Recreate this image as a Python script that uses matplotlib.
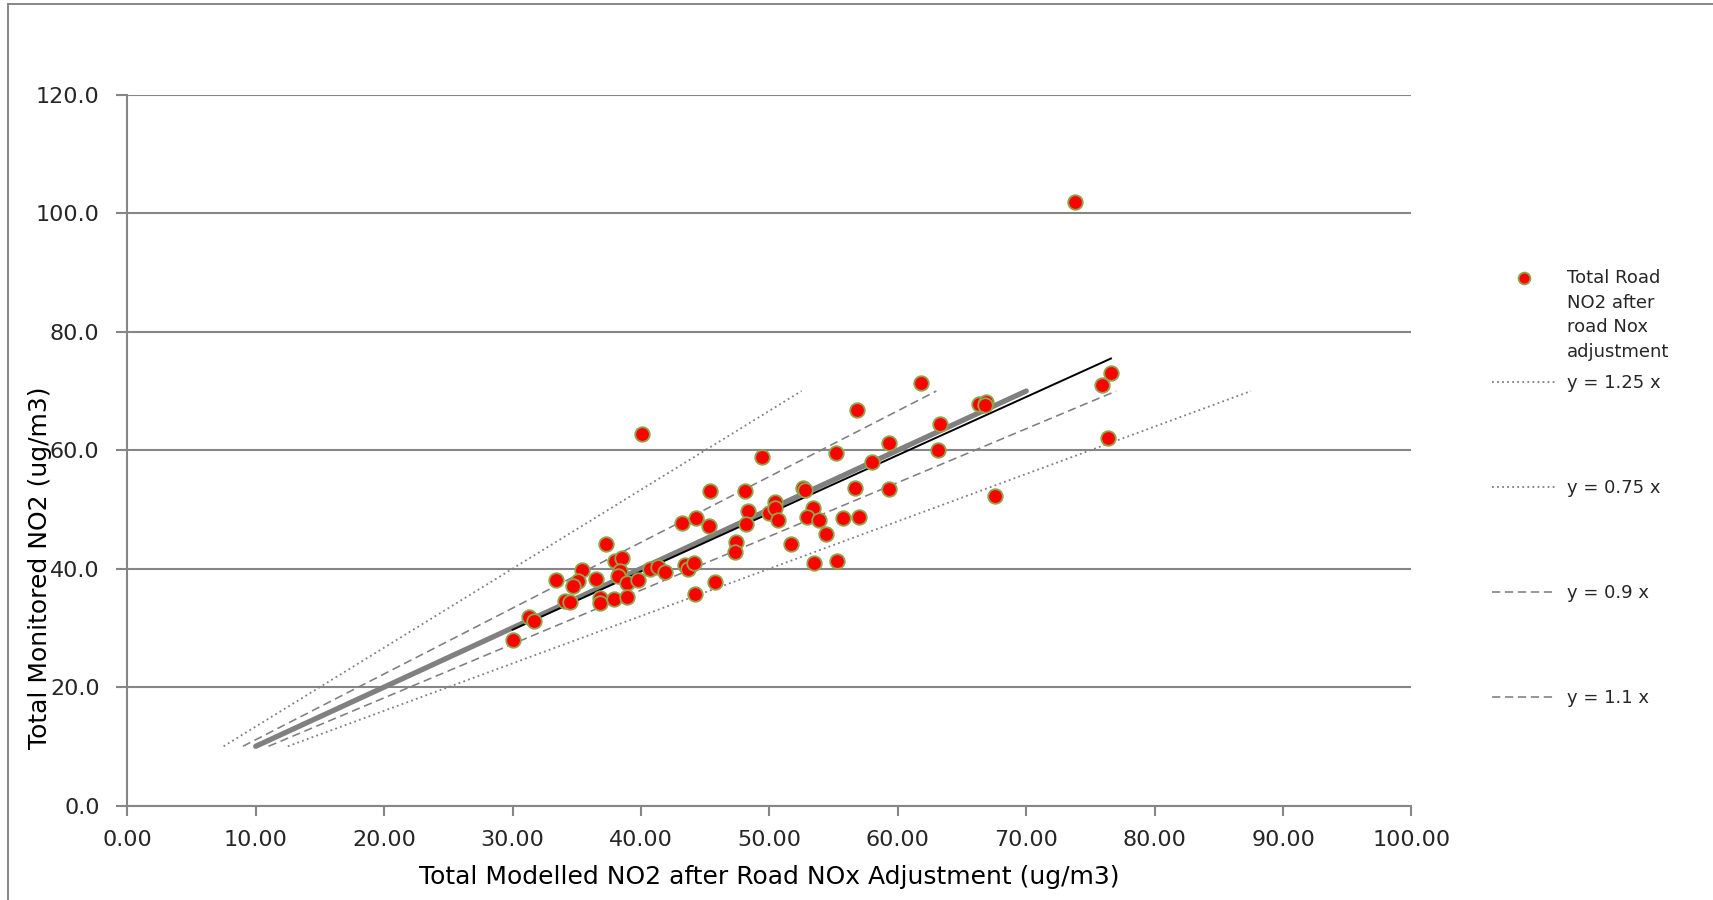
import matplotlib
matplotlib.use("Agg")
import matplotlib.pyplot as plt
from matplotlib.lines import Line2D
from matplotlib.legend_handler import HandlerLine2D
import numpy as np

# ---------------- data ----------------
modelled_no2 = [40.1, 56.8, 49.4, 55.2, 58.0, 45.4, 48.1, 52.6, 52.8, 56.7,
                50.4, 48.3, 50.0, 50.4, 50.7, 53.4, 52.9, 53.9, 55.7, 57.0,
                54.4, 51.7, 53.5, 55.3, 43.2, 44.3, 45.3, 48.2, 47.4, 47.3,
                37.3, 38.0, 38.5, 38.4, 38.2, 38.9, 39.8, 40.7, 41.3, 41.9,
                43.4, 43.7, 44.1, 45.8, 44.2, 35.4, 35.1, 34.7, 33.4, 36.5,
                34.1, 34.5, 36.8, 36.8, 37.9, 38.9, 31.3, 31.7, 30.0, 61.8,
                66.3, 66.9, 66.8, 63.3, 59.3, 63.1, 59.3, 67.6, 75.9, 76.6,
                76.4, 73.8]
monitored_no2 = [62.8, 66.8, 58.9, 59.6, 58.0, 53.1, 53.1, 53.7, 53.3, 53.7,
                 51.2, 49.7, 49.4, 50.2, 48.2, 50.3, 48.8, 48.2, 48.6, 48.8,
                 45.8, 44.1, 41.0, 41.3, 47.7, 48.6, 47.2, 47.5, 44.5, 42.8,
                 44.1, 41.3, 41.8, 39.6, 38.8, 37.5, 38.1, 39.9, 40.3, 39.5,
                 40.7, 40.0, 41.0, 37.7, 35.8, 39.7, 37.9, 37.0, 38.1, 38.3,
                 34.5, 34.3, 35.0, 34.2, 34.8, 35.2, 31.9, 31.1, 28.0, 71.3,
                 67.8, 68.2, 67.6, 64.5, 61.3, 60.1, 53.4, 52.3, 71.1, 73.1,
                 62.1, 102.0]

# reference lines: modelled = factor * monitored, monitored from 10 to 70
ref_factors = [0.75, 1.25, 0.9, 1.1]
ref_labels = ["y = 1.25 x", "y = 0.75 x", "y = 0.9 x", "y = 1.1 x"]
ref_styles = ["dotted", "dotted", "dashed", "dashed"]
ref_y_range = [10, 70]
one_to_one_range = [10, 70]

trend_slope = 0.983
trend_intercept = 0.2

series_label = "Total Road\nNO2 after\nroad Nox\nadjustment"
x_ticks = [0, 10, 20, 30, 40, 50, 60, 70, 80, 90, 100]
y_ticks = [0, 20, 40, 60, 80, 100, 120]
x_title = "Total Modelled NO2 after Road NOx Adjustment (ug/m3)"
y_title = "Total Monitored NO2 (ug/m3)"

# ---------------- style ----------------
W, H = 1713, 900
DPI = 100
GRAY = "#868686"
LINE_GRAY = "#7f7f7f"
TXT = "#262626"

plt.rcParams["font.family"] = ["DejaVu Sans"]

fig = plt.figure(figsize=(W / DPI, H / DPI), dpi=DPI)
ax = fig.add_axes([127.3 / W, 1 - 805.5 / H, (1411.5 - 127.3) / W, (805.5 - 95) / H])

ax.set_xlim(0, 100)
ax.set_ylim(0, 120)

ax.set_yticks(y_ticks)
ax.set_xticks(x_ticks)
ax.yaxis.grid(True, color=GRAY, linewidth=1.5)
ax.set_axisbelow(True)
for s in ["top", "right"]:
    ax.spines[s].set_visible(False)
for s in ["left", "bottom"]:
    ax.spines[s].set_color(GRAY)
    ax.spines[s].set_linewidth(1.5)

ax.set_xticklabels([f"{v:.2f}" for v in x_ticks])
ax.set_yticklabels([f"{v:.1f}" for v in y_ticks])
ax.tick_params(axis="x", direction="out", length=7, width=1.5, color=GRAY,
               labelsize=16, labelcolor=TXT, pad=11)
ax.tick_params(axis="y", direction="out", length=8, width=1.5, color=GRAY,
               labelsize=16, labelcolor=TXT, pad=12)

# reference lines
handles = []
for f, lab, st in zip(ref_factors, ref_labels, ref_styles):
    yy = np.array(ref_y_range, dtype=float)
    xx = f * yy
    if st == "dotted":
        ls = (0, (1, 1.8))
        lw = 1.3
    else:
        ls = (0, (5.2, 2.9))
        lw = 1.15
    h, = ax.plot(xx, yy, linestyle=ls, color=LINE_GRAY, linewidth=lw, zorder=2)
    handles.append((h, lab))

# 1:1 line
ax.plot(one_to_one_range, one_to_one_range, color="#808080", linewidth=3.8,
        solid_capstyle="round", zorder=3)

# trend line over data range
tx = np.array([min(modelled_no2), max(modelled_no2)])
ax.plot(tx, trend_slope * tx + trend_intercept, color="black", linewidth=1.4, zorder=4)

# scatter
ax.scatter(modelled_no2, monitored_no2, s=110, facecolor="#ff0000",
           edgecolor="#8DA64C", linewidth=1.3, zorder=5)

# axis titles
fig.text(40 / W, 1 - 568 / H, y_title, rotation=90, ha="center", va="center",
         fontsize=18, color="black")
fig.text(769 / W, 1 - 877 / H, x_title, ha="center", va="center",
         fontsize=18, color="black")

# chart border (left and top visible)
fig.add_artist(Line2D([7.5 / W, 7.5 / W], [0, 1 - 4 / H], transform=fig.transFigure,
                      color=GRAY, linewidth=1.4))
fig.add_artist(Line2D([7.5 / W, 1], [1 - 4 / H, 1 - 4 / H], transform=fig.transFigure,
                      color=GRAY, linewidth=1.4))

# ---------------- legend ----------------
LEG_FS = 13
handle_len = (1555 - 1492) / (LEG_FS * DPI / 72)
text_pad = (1567 - 1555) / (LEG_FS * DPI / 72)
line_gap_px = 24.0
first_line_y = 279
first_center = first_line_y + 1.5 * line_gap_px


class ShiftedHandler(HandlerLine2D):
    def __init__(self, dy, **kw):
        super().__init__(**kw)
        self.dy = dy

    def create_artists(self, legend, orig_handle, xdescent, ydescent, width,
                       height, fontsize, trans):
        arts = super().create_artists(legend, orig_handle, xdescent, ydescent,
                                      width, height, fontsize, trans)
        for a in arts:
            a.set_ydata(np.asarray(a.get_ydata()) + self.dy)
        return arts


marker_handle = Line2D([], [], linestyle="none", marker="o", markersize=8.5,
                       markerfacecolor="#ff0000", markeredgecolor="#8DA64C",
                       markeredgewidth=1.3)
shift_pt = (first_center - first_line_y + 1.5) * 72 / DPI
leg0 = fig.legend([marker_handle], [series_label], loc="center left",
                  bbox_to_anchor=(1492 / W, 1 - first_center / H),
                  bbox_transform=fig.transFigure, frameon=False, fontsize=LEG_FS,
                  handlelength=handle_len, handletextpad=text_pad, borderpad=0,
                  borderaxespad=0, numpoints=1,
                  handler_map={marker_handle: ShiftedHandler(shift_pt, numpoints=1)})
for t in leg0.get_texts():
    t.set_linespacing(1.48)
    t.set_color(TXT)

leg_y = [383, 488, 593, 698]
for (h, lab), yp in zip(handles, leg_y):
    lg = fig.legend([h], [lab], loc="center left",
                    bbox_to_anchor=(1492 / W, 1 - yp / H),
                    bbox_transform=fig.transFigure, frameon=False, fontsize=LEG_FS,
                    handlelength=handle_len, handletextpad=text_pad, borderpad=0,
                    borderaxespad=0)
    for t in lg.get_texts():
        t.set_color(TXT)

fig.savefig("out.png", dpi=DPI)
